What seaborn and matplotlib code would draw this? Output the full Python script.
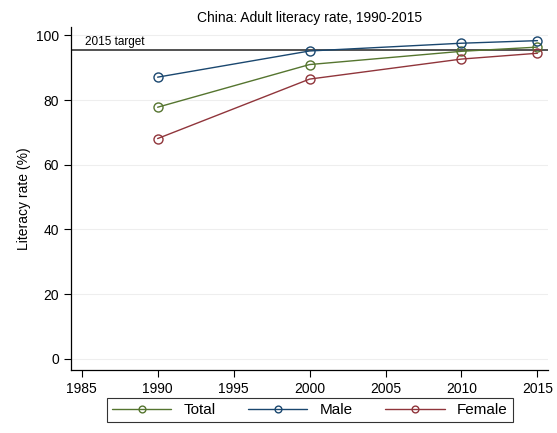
import numpy as np
import matplotlib
matplotlib.use("Agg")
import matplotlib.pyplot as plt
import seaborn as sns
import pandas as pd

# --- Data ---
years = [1990, 2000, 2010, 2015]
total = [77.8, 91.0, 95.1, 96.4]
male = [87.1, 95.2, 97.6, 98.4]
female = [68.1, 86.5, 92.7, 94.5]
target_2015 = 95.6

series_names = ["Total", "Male", "Female"]
series_colors = ["#55752f", "#1a476f", "#90353b"]

sns.set_style("white")
plt.rcParams['font.family'] = ['Liberation Sans', 'DejaVu Sans']
plt.rcParams['text.color'] = 'black'
plt.rcParams['axes.labelcolor'] = 'black'
plt.rcParams['xtick.color'] = 'black'
plt.rcParams['ytick.color'] = 'black'

df = pd.DataFrame({"year": years * 3,
                   "rate": total + male + female,
                   "group": np.repeat(series_names, len(years))})

fig = plt.figure(figsize=(5.57, 4.33), dpi=100)
ax = fig.add_axes([0.1275, 0.1455, 0.8565, 0.792])

for name, col in zip(series_names, series_colors):
    sub = df[df["group"] == name]
    sns.lineplot(data=sub, x="year", y="rate", ax=ax, color=col, label=name,
                 marker="o", markersize=6.5, markerfacecolor="none",
                 markeredgecolor=col, markeredgewidth=1.0, linewidth=1.0,
                 legend=False)

# target line + label
ax.axhline(target_2015, color="#444444", linewidth=1.3, zorder=1)
ax.text(1985.2, target_2015 + 0.6, "2015 target", fontsize=8.5, ha="left", va="bottom")

ax.set_xlim(1984.3, 2015.7)
ax.set_ylim(-3.5, 102.6)
ax.set_xticks(range(1985, 2016, 5))
ax.set_yticks(range(0, 101, 20))
ax.grid(axis="y", color="#eeeeee", linewidth=0.8)
ax.set_axisbelow(True)
ax.tick_params(axis="both", which="major", direction="out", length=5, width=0.8,
               labelsize=10, color="black", bottom=True, left=True)
for s in ["top", "right"]:
    ax.spines[s].set_visible(False)
for s in ["left", "bottom"]:
    ax.spines[s].set_color("black")
    ax.spines[s].set_linewidth(0.9)

ax.set_xlabel("")
ax.set_ylabel("Literacy rate (%)", fontsize=10)
ax.set_title("China: Adult literacy rate, 1990-2015", fontsize=10, pad=4)

handles, labels = ax.get_legend_handles_labels()
leg = fig.legend(handles[:3], labels[:3], loc="center", bbox_to_anchor=(0.556, 0.053),
                 ncol=3, frameon=True, fancybox=False, edgecolor="black",
                 handlelength=3.9, columnspacing=2.1, fontsize=11,
                 borderpad=0.35, handletextpad=0.8, markerscale=0.75)
leg.get_frame().set_linewidth(0.8)

fig.savefig("out.png", dpi=100)
